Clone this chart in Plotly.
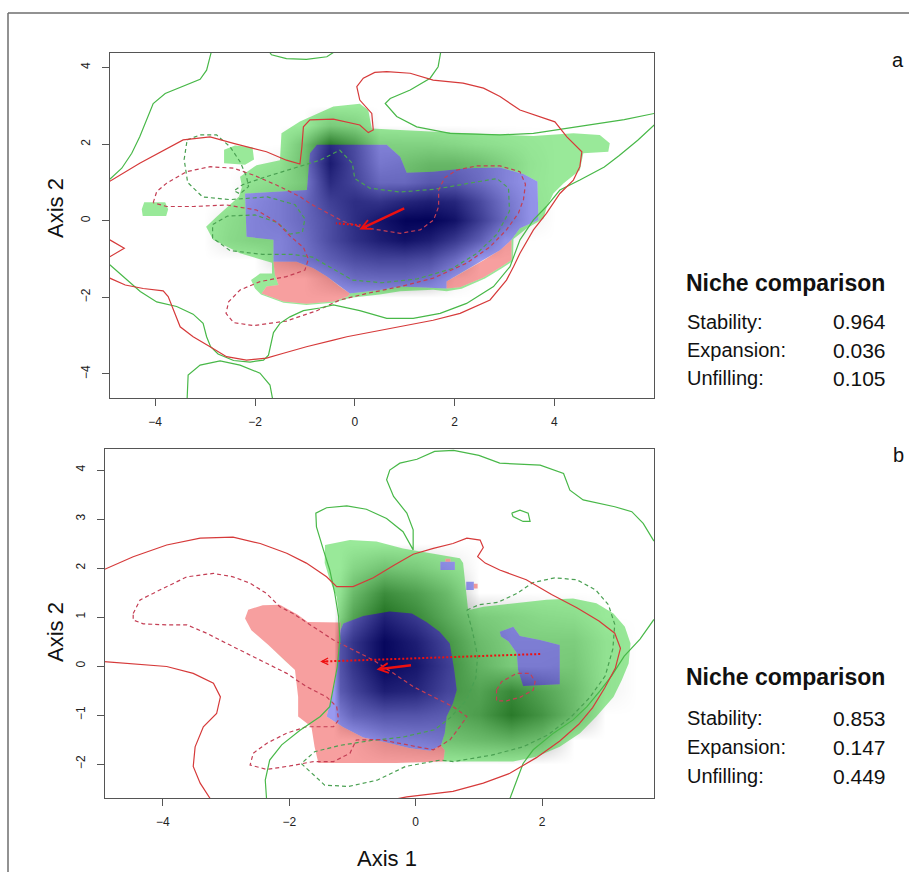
import plotly.graph_objects as go

FONT = "Liberation Sans, Arial, Helvetica, sans-serif"
W, H = 909, 872

# ======================= DATA =======================
STAT_LABELS = ["Stability:", "Expansion:", "Unfilling:"]
A_STAT_VALUES = ["0.964", "0.036", "0.105"]
B_STAT_VALUES = ["0.853", "0.147", "0.449"]

A_X_TICKS = [-4, -2, 0, 2, 4]
A_Y_TICKS = [-4, -2, 0, 2, 4]
B_X_TICKS = [-4, -2, 0, 2]
B_Y_TICKS = [-2, -1, 0, 1, 2, 3, 4]

# ---------- panel a : coloured niche regions (polygon vertices, data units) ----------
A_GREEN_OUTLINE = [(-1.50, 1.58), (-1.47, 2.28), (-1.10, 2.59), (-0.43, 2.98), (0.10, 3.05), (0.27, 2.89),
                   (0.34, 2.41), (0.91, 2.37), (2.24, 2.28), (3.58, 2.21), (4.38, 2.28), (4.91, 2.24),
                   (5.11, 2.02), (5.08, 1.80), (4.58, 1.76), (4.51, 1.32), (4.18, 0.97), (3.98, 0.71),
                   (3.85, 0.37), (3.78, 0.05), (3.45, -0.20), (3.18, -0.48), (3.17, -1.05), (2.94, -1.25),
                   (2.61, -1.51), (2.14, -1.78), (1.84, -1.84), (1.57, -1.80), (0.91, -1.84), (0.50, -1.93),
                   (-0.08, -2.01), (-0.43, -2.14), (-0.97, -2.20), (-1.43, -2.14), (-1.88, -1.93),
                   (-2.00, -1.77), (-2.08, -1.55), (-1.90, -1.38), (-1.66, -1.38), (-1.66, -1.10),
                   (-2.30, -0.85), (-2.84, -0.50), (-2.98, -0.16), (-2.77, 0.10), (-2.32, 0.63),
                   (-2.26, 0.89), (-2.30, 1.15), (-1.97, 1.45)]
A_GREEN_BLOBS = [
    [(-4.25, 0.12), (-3.78, 0.12), (-3.74, 0.30), (-3.80, 0.48), (-4.22, 0.48), (-4.27, 0.30)],
    [(-2.62, 1.50), (-2.20, 1.46), (-2.02, 1.60), (-2.05, 1.92), (-2.40, 1.96), (-2.62, 1.85)],
]
A_BLUE = [(-0.76, 1.98), (0.64, 1.98), (0.91, 1.67), (1.04, 1.25), (1.57, 1.28), (2.24, 1.37), (2.91, 1.39),
          (3.38, 1.22), (3.66, 1.02), (3.68, 0.02), (3.31, -0.20), (3.14, -0.50), (2.91, -0.77),
          (2.58, -1.03), (2.11, -1.38), (1.84, -1.59), (1.84, -1.77), (0.91, -1.72), (0.50, -1.81),
          (-0.10, -1.90), (-0.30, -1.72), (-0.56, -1.46), (-0.83, -1.24), (-1.17, -1.07), (-1.63, -1.07),
          (-1.63, -0.50), (-2.17, -0.42), (-2.20, 0.71), (-0.96, 0.80), (-0.90, 1.76)]
A_RED_LEFT = [(-1.63, -1.07), (-1.17, -1.07), (-0.83, -1.24), (-0.56, -1.46), (-0.30, -1.72), (-0.10, -1.90),
              (-0.13, -1.97), (-0.43, -2.11), (-0.97, -2.17), (-1.43, -2.11), (-1.87, -1.90),
              (-1.77, -1.72), (-1.53, -1.68), (-1.60, -1.42)]
A_RED_RIGHT = [(1.84, -1.77), (1.84, -1.59), (2.11, -1.38), (2.58, -1.03), (2.91, -0.77), (3.14, -0.50),
               (3.14, -1.03), (2.91, -1.22), (2.58, -1.48), (2.11, -1.74)]

# ---------- panel a : occurrence density (grey shading) ----------
A_DENS_X = [-3, -2.5, -2, -1.5, -1, -0.5, 0, 0.5, 1, 1.5, 2, 2.5, 3, 3.5, 4]
A_DENS_Y = [-2.5, -2, -1.5, -1, -0.5, 0, 0.5, 1, 1.5, 2, 2.5, 3]
A_DENS = [
    [0, 0, 0, 0, 0, 0, 0, 0, 0, 0, 0, 0, 0, 0, 0],
    [0, 0, 0, 0, 0, 0, 0, 0, 0, 0, 0, 0, 0, 0, 0],
    [0, 0, 0, 0, 0, 0.15, 0.3, 0.32, 0.32, 0.25, 0.05, 0, 0, 0, 0],
    [0, 0, 0, 0.15, 0.25, 0.38, 0.5, 0.55, 0.55, 0.5, 0.3, 0, 0, 0, 0],
    [0, 0.1, 0.15, 0.15, 0.28, 0.5, 0.68, 0.8, 0.88, 0.8, 0.62, 0.38, 0.05, 0, 0],
    [0, 0.08, 0.15, 0.2, 0.32, 0.5, 0.7, 0.86, 0.97, 0.98, 0.88, 0.6, 0.3, 0.05, 0],
    [0, 0, 0.12, 0.2, 0.32, 0.58, 0.7, 0.66, 0.75, 0.8, 0.75, 0.52, 0.25, 0.05, 0],
    [0, 0, 0.05, 0.1, 0.22, 0.72, 0.55, 0.32, 0.32, 0.42, 0.42, 0.3, 0.15, 0.03, 0],
    [0, 0, 0, 0.05, 0.28, 0.82, 0.52, 0.22, 0.26, 0.32, 0.32, 0.26, 0.15, 0.04, 0],
    [0, 0, 0, 0, 0.25, 0.72, 0.5, 0.16, 0.15, 0.15, 0.12, 0.08, 0.05, 0.02, 0],
    [0, 0, 0, 0, 0, 0.2, 0.15, 0, 0, 0, 0, 0, 0, 0, 0],
    [0, 0, 0, 0, 0, 0, 0, 0, 0, 0, 0, 0, 0, 0, 0],
]

# ---------- panel a : envelope contour lines ----------
A_RED_SOLID = [
    [(-4.91, 1.03), (-4.31, 1.50), (-3.44, 2.11), (-2.90, 2.19), (-2.43, 2.02), (-1.77, 1.80), (-1.37, 1.58),
     (-1.10, 1.48), (-1.06, 1.93), (-1.03, 2.45), (-0.90, 2.63), (-0.43, 2.65), (0.10, 2.50), (0.27, 2.30),
     (0.37, 2.37), (0.34, 2.80), (0.10, 3.15), (0.04, 3.50), (0.17, 3.72), (0.40, 3.87), (0.64, 3.89),
     (1.11, 3.85), (1.57, 3.67), (2.17, 3.59), (2.58, 3.46), (2.91, 3.24), (3.31, 2.89), (3.78, 2.67),
     (4.01, 2.58), (4.25, 2.19), (4.45, 1.93), (4.55, 1.80), (4.51, 1.41), (4.38, 1.06), (4.11, 0.71),
     (3.84, 0.19), (3.58, -0.24), (3.31, -0.85), (3.18, -1.20), (3.04, -1.55), (2.71, -2.07), (2.11, -2.42),
     (1.57, -2.60), (0.91, -2.77), (0.24, -2.94), (-0.16, -3.03), (-0.43, -3.12), (-0.97, -3.29),
     (-1.43, -3.46), (-1.77, -3.59), (-2.17, -3.64), (-2.57, -3.55), (-2.90, -3.29), (-3.24, -3.03),
     (-3.50, -2.77), (-3.60, -2.42), (-3.74, -1.98), (-3.84, -1.83), (-4.24, -1.77), (-4.60, -1.68),
     (-4.91, -1.50)],
    [(-4.91, -0.50), (-4.62, -0.72), (-4.91, -0.94)],
]
A_GREEN_SOLID = [
    [(-2.88, 4.39), (-2.97, 3.93), (-3.10, 3.69), (-3.44, 3.52), (-3.80, 3.32), (-4.04, 3.06), (-4.17, 2.63),
     (-4.31, 2.19), (-4.47, 1.76), (-4.67, 1.37), (-4.91, 1.08)],
    [(-1.70, 4.39), (-1.67, 4.33), (-1.37, 4.23), (-0.97, 4.21), (-0.56, 4.28), (-0.43, 4.39)],
    [(1.72, 4.39), (1.67, 4.02), (1.51, 3.72), (1.11, 3.41), (0.71, 3.19), (0.61, 3.06), (0.84, 2.72),
     (1.24, 2.45), (1.91, 2.28), (2.91, 2.24), (3.58, 2.28), (4.25, 2.41), (4.91, 2.54), (5.40, 2.64),
     (6.00, 2.80)],
    [(-4.91, -1.15), (-4.60, -1.50), (-4.30, -1.85), (-3.97, -2.12), (-3.57, -2.24), (-3.24, -2.44),
     (-3.04, -2.68), (-2.97, -3.03), (-2.89, -3.29), (-2.74, -3.48), (-2.43, -3.65), (-2.10, -3.69),
     (-1.83, -3.64), (-1.73, -3.51), (-1.69, -3.25), (-1.63, -2.92), (-1.50, -2.68), (-1.30, -2.51),
     (-1.03, -2.35), (-0.70, -2.28), (-0.43, -2.20), (0.10, -2.35), (0.64, -2.55), (1.17, -2.55),
     (1.71, -2.42), (2.24, -2.16), (2.78, -1.72), (3.11, -1.20), (3.31, -0.50), (3.58, 0.02), (3.84, 0.37),
     (4.11, 0.80), (4.51, 1.06), (5.00, 1.40), (5.30, 1.70), (5.67, 2.10), (6.00, 2.50)],
    [(-3.36, -4.64), (-3.34, -4.03), (-3.10, -3.77), (-2.70, -3.66), (-2.30, -3.77), (-1.90, -3.98),
     (-1.70, -4.29), (-1.65, -4.64)],
]
A_RED_DASH = [
    [(-4.04, 0.47), (-3.97, 0.76), (-3.77, 0.98), (-3.37, 1.28), (-2.90, 1.41), (-2.43, 1.37), (-2.03, 1.19),
     (-1.57, 0.93), (-1.10, 0.63), (-0.90, 0.45), (-0.56, 0.21), (-0.23, -0.02), (0.10, -0.16),
     (0.50, -0.24), (0.91, -0.33), (1.31, -0.24), (1.58, 0.02), (1.68, 0.37), (1.68, 0.80), (1.80, 1.12),
     (2.04, 1.32), (2.44, 1.43), (2.91, 1.43), (3.31, 1.28), (3.42, 0.95), (3.38, 0.55), (3.28, 0.20),
     (3.04, -0.24), (2.71, -0.68), (2.24, -1.11), (1.57, -1.50), (0.91, -1.72), (0.24, -1.90),
     (-0.30, -2.07), (-0.76, -2.35), (-1.37, -2.62), (-2.03, -2.74), (-2.43, -2.66), (-2.58, -2.42),
     (-2.53, -2.12), (-2.30, -1.81), (-1.90, -1.59), (-1.37, -1.46), (-1.00, -1.29), (-0.93, -1.00),
     (-1.03, -0.70), (-1.30, -0.40), (-1.55, -0.05), (-1.97, 0.28), (-2.57, 0.41), (-3.24, 0.37),
     (-3.77, 0.37), (-4.04, 0.47)],
]
A_GREEN_DASH = [
    [(-3.36, 2.11), (-3.10, 2.24), (-2.77, 2.24), (-2.50, 1.93), (-2.30, 1.54), (-2.17, 1.15), (-2.13, 0.89),
     (-2.30, 0.70), (-2.42, 0.78), (-2.25, 0.94), (-1.77, 1.15), (-1.17, 1.39), (-0.70, 1.58), (-0.30, 1.84),
     (-0.05, 1.50), (0.00, 1.10), (0.30, 0.85), (0.90, 0.75), (1.60, 0.82), (2.30, 0.98), (2.85, 1.10),
     (3.08, 0.85), (3.10, 0.25), (2.85, -0.35), (2.45, -0.85), (1.95, -1.25), (1.25, -1.52), (0.55, -1.62),
     (-0.05, -1.55), (-0.45, -1.25), (-0.85, -0.95), (-1.25, -0.88), (-1.85, -0.88), (-2.50, -0.78),
     (-2.85, -0.45), (-2.85, -0.10), (-2.55, 0.12), (-2.00, 0.15), (-1.55, -0.05), (-1.30, -0.35),
     (-1.05, -0.30), (-1.00, 0.05), (-1.20, 0.42), (-1.75, 0.62), (-2.50, 0.55), (-3.05, 0.62),
     (-3.35, 1.00), (-3.42, 1.60), (-3.36, 2.11)],
]
# arrows: (tail_x, tail_y, head_x, head_y)
A_ARROW_SOLID = [(1.02, 0.34, 0.09, -0.23)]
A_ARROW_DOTTED = [(0.12, -0.12, -0.38, -0.07)]

# ---------- panel b : coloured niche regions ----------
B_GREEN_OUTLINE = [(-1.435, 2.47), (-1.04, 2.57), (-0.62, 2.54), (-0.20, 2.40), (0.23, 2.30), (0.70, 2.20),
                   (0.75, 2.10), (0.78, 1.69), (0.83, 1.14), (1.07, 1.21), (1.54, 1.28), (2.07, 1.35),
                   (2.49, 1.38), (2.86, 1.28), (3.13, 1.07), (3.31, 0.80), (3.40, 0.46), (3.37, 0.05),
                   (3.26, -0.29), (3.13, -0.63), (2.86, -1.03), (2.60, -1.37), (2.28, -1.65), (1.91, -1.85),
                   (1.54, -1.95), (0.75, -1.95), (0.44, -1.95), (-0.30, -1.98), (-0.83, -1.98), (-1.54, -1.98),
                   (-1.60, -1.65), (-1.65, -1.24), (-1.86, -1.03), (-1.86, -0.63), (-1.91, -0.08),
                   (-2.07, 0.12), (-2.33, 0.43), (-2.60, 0.73), (-2.70, 0.97), (-2.65, 1.15), (-2.42, 1.24),
                   (-2.15, 1.25), (-1.87, 1.05), (-1.71, 0.90), (-1.20, 0.89), (-1.25, 1.41), (-1.36, 1.76),
                   (-1.44, 2.10)]
B_BLUE = [(-1.145, 0.87), (-0.83, 1.02), (-0.41, 1.11), (-0.06, 1.07), (0.17, 0.90), (0.38, 0.70), (0.54, 0.46),
          (0.61, -0.08), (0.65, -0.49), (0.59, -0.76), (0.49, -1.03), (0.46, -1.37), (0.40, -1.62),
          (0.23, -1.73), (-0.09, -1.68), (-0.46, -1.56), (-0.83, -1.46), (-1.145, -1.25), (-1.41, -1.03),
          (-1.36, -0.76), (-1.28, -0.35), (-1.22, 0.19), (-1.19, 0.73)]
B_BLUE_RIGHT = [(1.33, 0.70), (1.545, 0.80), (1.65, 0.61), (1.97, 0.53), (2.28, 0.43), (2.28, -0.37),
                (1.70, -0.41), (1.62, -0.08), (1.60, 0.26), (1.47, 0.50), (1.35, 0.60)]
B_BLUE_SPOT_IN = [(0.39, 1.96), (0.62, 1.96), (0.62, 2.13), (0.39, 2.13)]
B_RED_SPOT_IN = [(0.47, 2.13), (0.55, 2.13), (0.55, 2.19), (0.47, 2.19)]
B_BLUE_SPOT_OUT = [(0.80, 1.55), (0.92, 1.55), (0.92, 1.72), (0.80, 1.72)]
B_RED_SPOT_OUT = [(0.92, 1.58), (0.98, 1.58), (0.98, 1.68), (0.92, 1.68)]
B_RED = [(-2.65, 1.15), (-2.42, 1.24), (-2.15, 1.25), (-1.87, 1.05), (-1.71, 0.90), (-1.19, 0.89), (-1.19, 0.73),
         (-1.22, 0.19), (-1.28, -0.35), (-1.36, -0.76), (-1.41, -1.03), (-1.145, -1.25), (-0.83, -1.46),
         (-0.46, -1.56), (-0.09, -1.68), (0.23, -1.73), (0.40, -1.62), (0.46, -1.72), (0.44, -1.95),
         (-0.30, -1.98), (-0.83, -1.98), (-1.54, -1.98), (-1.60, -1.65), (-1.65, -1.24), (-1.86, -1.03),
         (-1.86, -0.63), (-1.91, -0.08), (-2.07, 0.12), (-2.33, 0.43), (-2.60, 0.73), (-2.70, 0.97)]

# ---------- panel b : occurrence density ----------
B_DENS_X = [-2.5, -2, -1.5, -1.3, -1.2, -1, -0.5, 0, 0.5, 1, 1.5, 2, 2.5, 3, 3.5]
B_DENS_Y = [-2.5, -2, -1.5, -1, -0.5, 0, 0.5, 1, 1.5, 2, 2.5, 3]
B_DENS = [
    [0, 0, 0, 0, 0, 0, 0, 0, 0, 0, 0, 0, 0, 0, 0],
    [0, 0, 0, 0, 0, 0, 0, 0, 0, 0, 0, 0, 0, 0, 0],
    [0, 0, 0, 0, 0, 0, 0.15, 0.2, 0.25, 0.3, 0.35, 0.28, 0, 0, 0],
    [0, 0, 0, 0, 0.2, 0.35, 0.45, 0.45, 0.4, 0.5, 0.72, 0.55, 0.3, 0, 0],
    [0, 0, 0, 0, 0.4, 0.55, 0.8, 0.75, 0.55, 0.45, 0.62, 0.45, 0.28, 0.05, 0],
    [0, 0, 0, 0, 0.45, 0.65, 0.95, 0.85, 0.6, 0.35, 0.2, 0.2, 0.22, 0.05, 0],
    [0, 0, 0, 0, 0.45, 0.65, 0.95, 0.8, 0.55, 0.3, 0.18, 0.18, 0.18, 0.05, 0],
    [0, 0, 0, 0, 0.15, 0.45, 0.78, 0.62, 0.4, 0.2, 0.15, 0.1, 0.08, 0, 0],
    [0, 0, 0, 0, 0.05, 0.3, 0.6, 0.48, 0.3, 0, 0, 0, 0, 0, 0],
    [0, 0, 0, 0, 0, 0.12, 0.25, 0.2, 0.1, 0, 0, 0, 0, 0, 0],
    [0, 0, 0, 0, 0, 0, 0, 0, 0, 0, 0, 0, 0, 0, 0],
    [0, 0, 0, 0, 0, 0, 0, 0, 0, 0, 0, 0, 0, 0, 0],
]

# ---------- panel b : envelope contour lines ----------
B_RED_SOLID = [
    [(-4.93, 1.97), (-4.47, 2.23), (-3.94, 2.47), (-3.41, 2.61), (-2.89, 2.63), (-2.46, 2.50), (-2.04, 2.30),
     (-1.73, 2.10), (-1.41, 1.82), (-1.25, 1.62), (-0.99, 1.62), (-0.67, 1.80), (-0.35, 2.05), (-0.04, 2.28),
     (0.28, 2.40), (0.59, 2.50), (0.81, 2.61), (1.02, 2.57), (1.07, 2.42), (0.98, 2.23), (1.10, 2.10),
     (1.33, 1.96), (1.75, 1.76), (2.15, 1.46), (2.55, 1.19), (2.90, 0.92), (3.15, 0.67), (3.24, 0.36),
     (3.16, -0.04), (2.99, -0.45), (2.80, -0.85), (2.58, -1.19), (2.28, -1.53), (1.91, -1.87), (1.49, -2.19),
     (1.07, -2.39), (0.59, -2.56), (0.07, -2.63), (-0.14, -2.67), (-0.30, -2.71)],
    [(-4.93, 0.09), (-4.47, 0.05), (-3.94, -0.01), (-3.52, -0.15), (-3.20, -0.35), (-3.09, -0.63),
     (-3.15, -0.97), (-3.36, -1.24), (-3.49, -1.65), (-3.52, -2.05), (-3.41, -2.39), (-3.25, -2.71)],
]
B_GREEN_SOLID = [
    [(-2.36, -2.71), (-2.38, -2.33), (-2.31, -1.92), (-2.12, -1.61), (-1.83, -1.31), (-1.51, -1.03),
     (-1.36, -0.83), (-1.30, -0.42), (-1.24, -0.01), (-1.20, 0.53), (-1.22, 1.01), (-1.28, 1.48),
     (-1.36, 1.96), (-1.46, 2.37), (-1.57, 2.84), (-1.58, 3.12), (-1.41, 3.23), (-1.09, 3.27), (-0.78, 3.20),
     (-0.46, 3.01), (-0.20, 2.74), (-0.04, 2.37), (-0.04, 2.78), (-0.14, 3.12), (-0.35, 3.46), (-0.46, 3.80),
     (-0.41, 4.00), (-0.25, 4.14), (0.02, 4.22), (0.30, 4.38), (0.60, 4.40), (1.00, 4.30), (1.33, 4.14),
     (1.97, 4.10), (2.34, 3.93), (2.44, 3.59), (2.65, 3.39), (3.15, 3.25), (3.42, 3.15), (3.60, 2.91),
     (3.77, 2.55)],
    [(1.52, 3.12), (1.65, 3.18), (1.78, 3.12), (1.81, 2.95), (1.70, 2.95), (1.54, 3.05), (1.52, 3.12)],
    [(3.77, 0.95), (3.55, 0.55), (3.30, 0.20), (3.10, -0.20), (2.92, -0.50), (2.71, -0.83), (2.49, -1.10),
     (2.18, -1.37), (1.86, -1.71), (1.70, -1.99), (1.60, -2.33), (1.49, -2.71)],
]
B_RED_DASH = [
    [(-4.47, 1.07), (-4.36, 1.35), (-4.05, 1.55), (-3.62, 1.82), (-3.20, 1.89), (-2.89, 1.82), (-2.62, 1.69),
     (-2.36, 1.48), (-2.15, 1.21), (-1.94, 1.07), (-1.62, 0.80), (-1.30, 0.53), (-0.99, 0.33), (-0.67, 0.12),
     (-0.35, -0.15), (-0.04, -0.42), (0.28, -0.63), (0.59, -0.83), (0.81, -1.03), (0.70, -1.24),
     (0.54, -1.51), (0.28, -1.71), (0.07, -1.66), (-0.25, -1.58), (-0.57, -1.50), (-0.94, -1.51),
     (-1.04, -1.78), (-1.30, -1.95), (-1.62, -1.95), (-1.99, -2.04), (-2.36, -2.11), (-2.62, -2.02),
     (-2.57, -1.78), (-2.36, -1.58), (-2.04, -1.37), (-1.73, -1.24), (-1.30, -1.24), (-1.22, -1.10),
     (-1.25, -0.83), (-1.41, -0.63), (-1.73, -0.42), (-2.04, -0.15), (-2.36, 0.05), (-2.67, 0.26),
     (-2.99, 0.46), (-3.31, 0.67), (-3.62, 0.84), (-3.94, 0.84), (-4.31, 0.86), (-4.47, 0.94), (-4.47, 1.07)],
    [(1.28, -0.49), (1.36, -0.32), (1.60, -0.15), (1.81, -0.15), (1.89, -0.32), (1.86, -0.49), (1.65, -0.64),
     (1.44, -0.71), (1.28, -0.71), (1.28, -0.49)],
]
B_GREEN_DASH = [
    [(0.81, 1.14), (1.00, 1.25), (1.30, 1.30), (1.60, 1.48), (1.85, 1.70), (2.20, 1.80), (2.55, 1.76),
     (2.85, 1.55), (3.05, 1.25), (3.15, 0.85), (3.12, 0.35), (3.00, -0.20), (2.75, -0.65), (2.45, -1.05),
     (2.10, -1.40), (1.70, -1.65), (1.20, -1.82), (0.60, -1.95), (0.39, -1.92), (-0.16, -2.05),
     (-0.61, -2.33), (-1.07, -2.46), (-1.44, -2.43), (-1.81, -1.99), (-1.60, -1.75), (-1.20, -1.62),
     (-0.70, -1.52), (-0.20, -1.45), (0.30, -1.30), (0.55, -1.05), (0.80, -0.70), (0.95, -0.25),
     (0.98, 0.20), (0.90, 0.70), (0.81, 1.14)],
]
B_ARROW_SOLID = [(-0.05, 0.02, -0.62, -0.07)]
B_ARROW_DOTTED = [(1.97, 0.245, -1.51, 0.09)]

# ======================= STYLE / LAYOUT CONSTANTS =======================
GREEN_FILL = "rgba(0,200,0,0.40)"
BLUE_FILL = "rgba(0,0,215,0.40)"
RED_FILL = "rgba(235,15,15,0.40)"
RED_LINE = "rgb(214,58,58)"
GREEN_LINE = "rgb(72,184,72)"
RED_DASH_LINE = "rgb(196,62,84)"
GREEN_DASH_LINE = "rgb(74,160,82)"
ARROW_RED = "rgb(238,16,16)"

A_BOX = (110, 654, 52.7, 398.3)      # left, right, top, bottom (px)
B_BOX = (104.5, 654, 449, 798.3)
A_XRANGE, A_YRANGE = [-4.906, 5.996], [-4.637, 4.386]
B_XRANGE, B_YRANGE = [-4.924, 3.771], [-2.700, 4.429]


def fx(px):
    return px / W


def fy(py):
    return 1 - py / H


def signed_area(pts):
    s = 0.0
    n = len(pts)
    for i in range(n):
        x1, y1 = pts[i]
        x2, y2 = pts[(i + 1) % n]
        s += x1 * y2 - x2 * y1
    return s / 2


def oriented(pts, ccw):
    p = list(pts)
    if (signed_area(p) > 0) != ccw:
        p = p[::-1]
    return p


def rings_xy(rings):
    xs, ys = [], []
    for r in rings:
        xs += [p[0] for p in r] + [r[0][0], None]
        ys += [p[1] for p in r] + [r[0][1], None]
    return xs[:-1], ys[:-1]


def lines_xy(lines):
    xs, ys = [], []
    for ln in lines:
        xs += [p[0] for p in ln] + [None]
        ys += [p[1] for p in ln] + [None]
    return xs[:-1], ys[:-1]


fig = go.Figure()


def add_fill(rings, color, xa, ya):
    x, y = rings_xy(rings)
    fig.add_trace(go.Scatter(x=x, y=y, mode="lines", fill="toself", fillcolor=color,
                             line=dict(width=0, color=color), hoverinfo="skip", showlegend=False,
                             xaxis=xa, yaxis=ya))


def add_lines(lines, color, dash, xa, ya, width=1.2):
    x, y = lines_xy(lines)
    fig.add_trace(go.Scatter(x=x, y=y, mode="lines", line=dict(color=color, width=width, dash=dash),
                             hoverinfo="skip", showlegend=False, xaxis=xa, yaxis=ya))


annotations = []


def add_arrows(solid, dotted, xa, ya):
    xr, yr = xa, ya
    for (tx, ty, hx, hy) in dotted:
        add_lines([[(tx, ty), (hx, hy)]], ARROW_RED, "2px,2px", xa, ya, width=2)
        annotations.append(dict(x=hx, y=hy, ax=hx + 0.04 * (tx - hx), ay=hy + 0.04 * (ty - hy),
                                xref=xr, yref=yr, axref=xr, ayref=yr, text="", showarrow=True,
                                arrowhead=5, arrowsize=0.8, arrowwidth=1.6, arrowcolor=ARROW_RED))
    for (tx, ty, hx, hy) in solid:
        annotations.append(dict(x=hx, y=hy, ax=tx, ay=ty, xref=xr, yref=yr, axref=xr, ayref=yr,
                                text="", showarrow=True, arrowhead=5, arrowsize=0.8, arrowwidth=2.4,
                                arrowcolor=ARROW_RED))


def add_panel(xa, ya, dens_x, dens_y, dens, green_outline, green_extra, holes, blues, reds,
              red_solid, green_solid, red_dash, green_dash, arr_solid, arr_dotted):
    fig.add_trace(go.Heatmap(x=dens_x, y=dens_y, z=dens, zmin=0, zmax=1, zsmooth="best",
                             colorscale=[[0, "rgb(255,255,255)"], [1, "rgb(0,0,0)"]], showscale=False,
                             hoverinfo="skip", xaxis=xa, yaxis=ya))
    green_rings = [oriented(green_outline, True)] + [oriented(g, True) for g in green_extra] + \
                  [oriented(h, False) for h in holes]
    add_fill(green_rings, GREEN_FILL, xa, ya)
    add_fill([oriented(b, True) for b in blues], BLUE_FILL, xa, ya)
    add_fill([oriented(r, True) for r in reds], RED_FILL, xa, ya)
    add_lines(green_dash, GREEN_DASH_LINE, "4px,3px", xa, ya)
    add_lines(red_dash, RED_DASH_LINE, "4px,3px", xa, ya)
    add_lines(green_solid, GREEN_LINE, "solid", xa, ya)
    add_lines(red_solid, RED_LINE, "solid", xa, ya)
    add_arrows(arr_solid, arr_dotted, xa, ya)


add_panel("x", "y", A_DENS_X, A_DENS_Y, A_DENS, A_GREEN_OUTLINE, A_GREEN_BLOBS,
          [A_BLUE, A_RED_LEFT, A_RED_RIGHT], [A_BLUE], [A_RED_LEFT, A_RED_RIGHT],
          A_RED_SOLID, A_GREEN_SOLID, A_RED_DASH, A_GREEN_DASH, A_ARROW_SOLID, A_ARROW_DOTTED)
add_panel("x2", "y2", B_DENS_X, B_DENS_Y, B_DENS, B_GREEN_OUTLINE, [],
          [B_BLUE, B_RED, B_BLUE_RIGHT, B_BLUE_SPOT_IN, B_RED_SPOT_IN],
          [B_BLUE, B_BLUE_RIGHT, B_BLUE_SPOT_IN, B_BLUE_SPOT_OUT], [B_RED, B_RED_SPOT_IN, B_RED_SPOT_OUT],
          B_RED_SOLID, B_GREEN_SOLID, B_RED_DASH, B_GREEN_DASH, B_ARROW_SOLID, B_ARROW_DOTTED)

axis_style = dict(showgrid=False, zeroline=False, showline=True, mirror=True, linecolor="#555555",
                  linewidth=1, ticks="outside", ticklen=7, tickcolor="#555555", tickwidth=1,
                  tickfont=dict(family=FONT, size=12, color="#222222"), fixedrange=True)

fig.update_layout(
    width=W, height=H, margin=dict(l=0, r=0, t=0, b=0),
    paper_bgcolor="white", plot_bgcolor="white", showlegend=False,
    xaxis=dict(domain=[fx(A_BOX[0]), fx(A_BOX[1])], range=A_XRANGE, anchor="y", tickvals=A_X_TICKS,
               ticklabelstandoff=5, **axis_style),
    yaxis=dict(domain=[fy(A_BOX[3]), fy(A_BOX[2])], range=A_YRANGE, anchor="x", tickvals=A_Y_TICKS,
               tickangle=-90, ticklabelstandoff=7, **axis_style),
    xaxis2=dict(domain=[fx(B_BOX[0]), fx(B_BOX[1])], range=B_XRANGE, anchor="y2", tickvals=B_X_TICKS,
                ticklabelstandoff=5, **axis_style),
    yaxis2=dict(domain=[fy(B_BOX[3]), fy(B_BOX[2])], range=B_YRANGE, anchor="x2", tickvals=B_Y_TICKS,
                tickangle=-90, ticklabelstandoff=7, **axis_style),
)


def paper_text(text, px, py, size, xanchor="center", bold=False, angle=0):
    annotations.append(dict(x=fx(px), y=fy(py), xref="paper", yref="paper",
                            text=("<b>%s</b>" % text) if bold else text,
                            showarrow=False, xanchor=xanchor, yanchor="middle", textangle=angle,
                            font=dict(family=FONT, size=size, color="#111111")))


paper_text("Axis 2", 55, 208, 22, angle=-90)
paper_text("Axis 2", 55, 632, 22, angle=-90)
paper_text("Axis 1", 387, 858, 22)
paper_text("a", 898, 60, 20)
paper_text("b", 898, 455, 20)

for (top, values) in [((283, 322, 350, 378), A_STAT_VALUES), ((677, 718, 747, 776), B_STAT_VALUES)]:
    paper_text("Niche comparison", 684, top[0], 23, xanchor="left", bold=True)
    for i, lab in enumerate(STAT_LABELS):
        paper_text(lab, 685, top[i + 1], 20, xanchor="left")
        paper_text(values[i], 888, top[i + 1], 21, xanchor="right")

fig.update_layout(annotations=annotations)

# outer frame of the figure
fig.add_shape(type="line", xref="paper", yref="paper", x0=fx(8), y0=fy(13), x1=fx(8), y1=0,
              line=dict(color="#6e6e6e", width=1.5))
fig.add_shape(type="line", xref="paper", yref="paper", x0=fx(8), y0=fy(13), x1=1, y1=fy(13),
              line=dict(color="#6e6e6e", width=1.5))

fig.write_html("out.html", config={"displayModeBar": False},
               post_script="document.body.style.margin='0px';")
